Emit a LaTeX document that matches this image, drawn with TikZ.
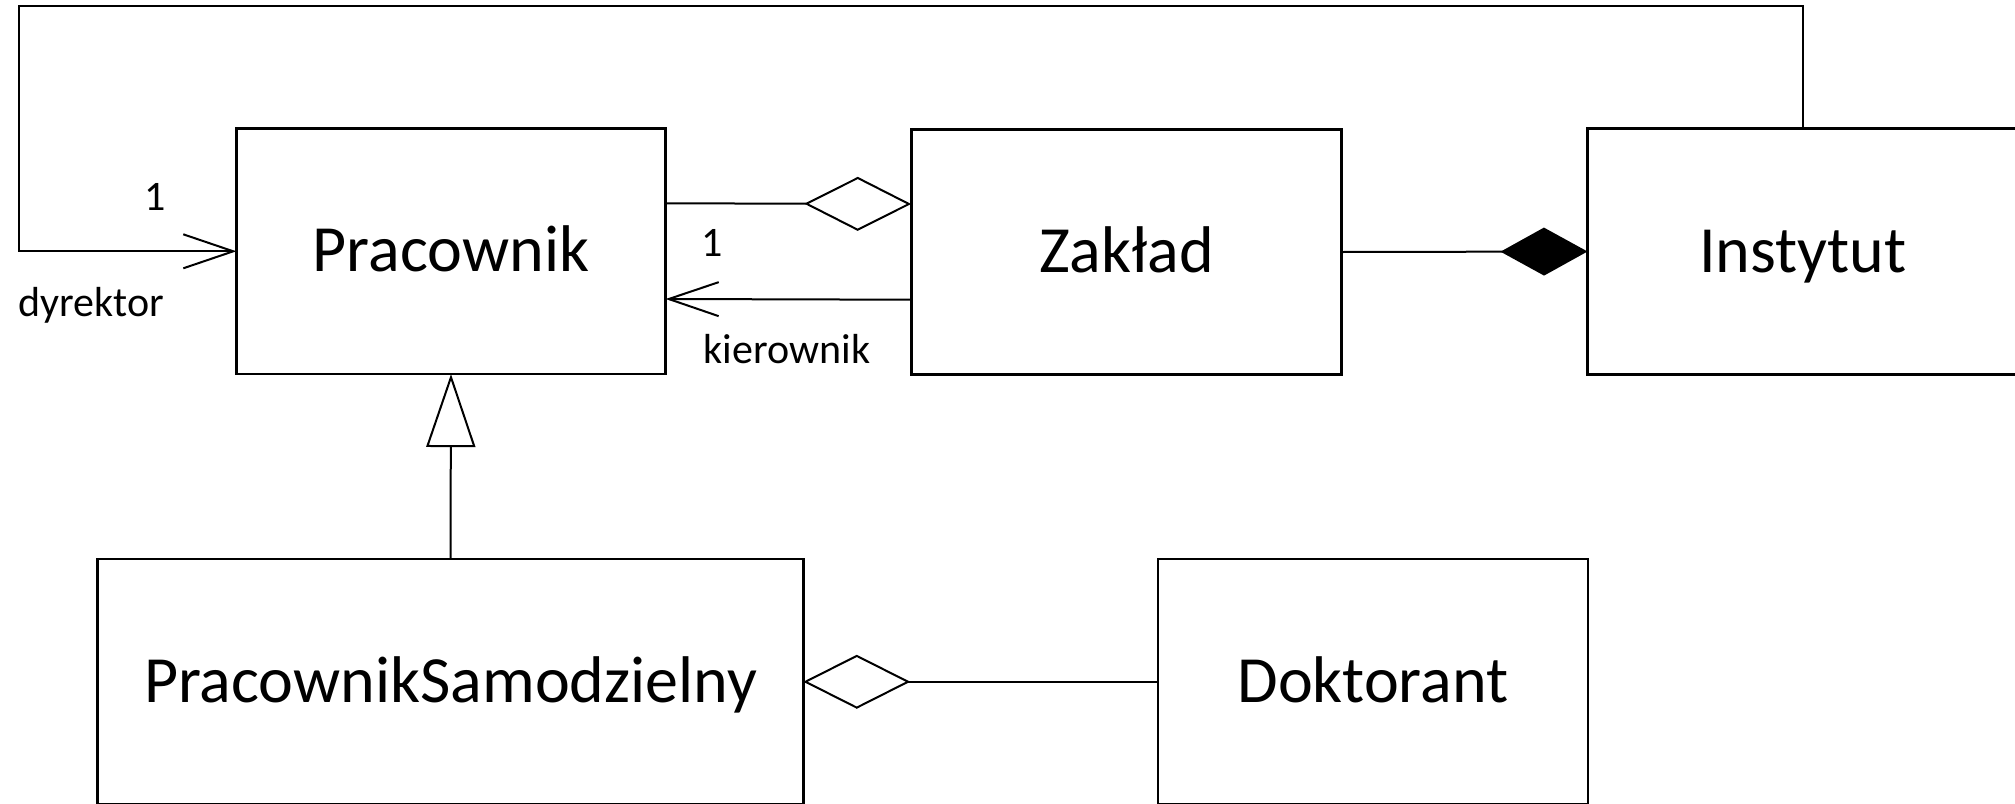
\documentclass[tikz,border=0pt]{standalone}
\usepackage{fontspec}
\setmainfont{Carlito}
\usetikzlibrary{arrows.meta}
\begin{document}
\begin{tikzpicture}[x=1pt,y=-1pt,
  cls/.style={draw, line width=2.8pt, inner sep=0pt, outer sep=0pt, minimum width=#1, minimum height=245.5pt,
    text height=41pt, text depth=0pt, font=\fontsize{66}{70}\selectfont},
  conn/.style={line width=2pt, line join=miter},
  lbl/.style={anchor=base, inner sep=0pt, font=\fontsize{42}{46}\selectfont},
  aggr/.style={conn, -{Diamond[open, fill=white, length=107pt, width=54pt]}},
  comp/.style={conn, -{Diamond[length=87pt, width=48pt]}},
  gen/.style={conn, -{Triangle[open, fill=white, length=73pt, width=49pt]}},
  nav/.style={conn, -{Straight Barb[length=50pt, width=34pt]}}]
\clip (0,0) rectangle (2015,803);
\node[cls=429.2pt] (prac) at (451,251.3) {Pracownik};
\node[cls=430.6pt] (zak) at (1126.5,252) {Zakład};
\node[cls=431pt] (inst) at (1803,251.5) {Instytut};
\node[cls=705.5pt] (ps) at (450.5,681.75) {PracownikSamodzielny};
\node[cls=430pt] (dok) at (1373,681.75) {Doktorant};
\coordinate (tl) at (19,6);
\draw[nav] (inst.north) |- (tl) |- (prac.west);
\draw[aggr] ([yshift=48pt]prac.east) -- ([yshift=48pt]zak.west);
\draw[nav] ([yshift=-47.7pt]zak.west) -- ([yshift=-47.7pt]prac.east);
\draw[comp] (zak.east) -- (inst.west);
\draw[gen] (ps.north) -- (prac.south);
\draw[aggr] (dok.west) -- (ps.east);
\node[lbl] (m1) at (155.5,210.7) {1};
\node[lbl] (r1) at (91.5,316.7) {dyrektor};
\node[lbl] (m2) at (712,256.7) {1};
\node[lbl] (r2) at (787,363.3) {kierownik};
\end{tikzpicture}
\end{document}
